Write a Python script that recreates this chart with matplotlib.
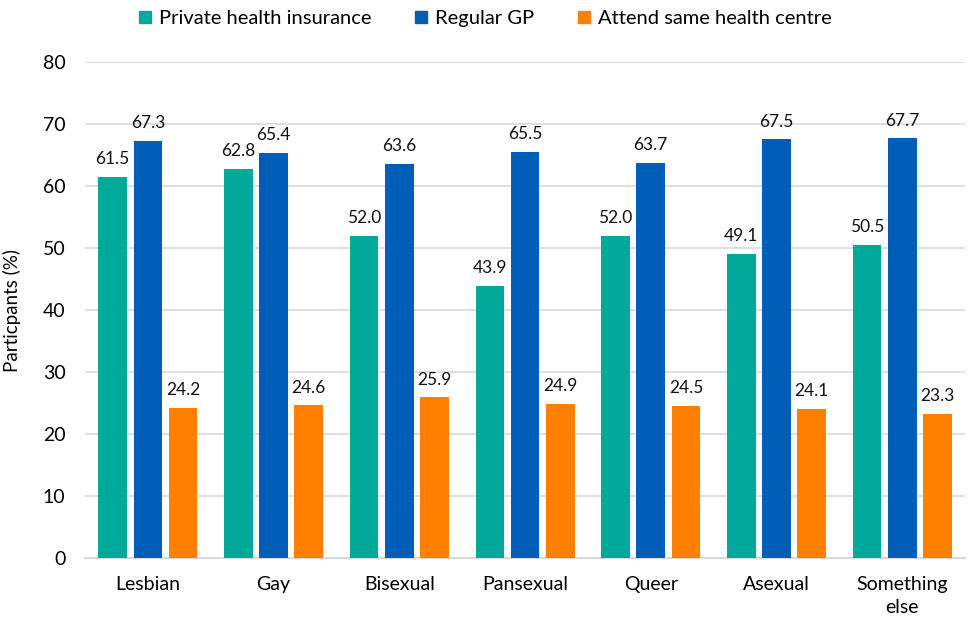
import numpy as np
import matplotlib.pyplot as plt
from matplotlib.lines import Line2D

plt.rcParams['font.family'] = ['Lato', 'DejaVu Sans']

categories = ["Lesbian", "Gay", "Bisexual", "Pansexual", "Queer", "Asexual", "Something\nelse"]
private_ins = [61.5, 62.8, 52.0, 43.9, 52.0, 49.1, 50.5]
regular_gp = [67.3, 65.4, 63.6, 65.5, 63.7, 67.5, 67.7]
same_centre = [24.2, 24.6, 25.9, 24.9, 24.5, 24.1, 23.3]

series = [("Private health insurance", private_ins, "#00A99A"),
          ("Regular GP", regular_gp, "#005EB8"),
          ("Attend same health centre", same_centre, "#FF7F00")]

fig = plt.figure(figsize=(9.7, 6.23), dpi=100)
ax = fig.add_axes([0.0876, 0.1043, 0.9074, 0.7962])

x = np.arange(len(categories))
step = 0.28
width = 0.228
for i, (name, vals, col) in enumerate(series):
    pos = x + (i - 1) * step
    ax.bar(pos, vals, width=width, color=col, zorder=3)
    for p, v in zip(pos, vals):
        ax.annotate(f"{v:.1f}", (p, v), xytext=(0, 7), textcoords="offset points",
                    ha="center", va="bottom", fontsize=12.5, color="#111111")

ax.set_xlim(-0.5, len(categories) - 0.5)
ax.set_ylim(0, 80)
ax.set_yticks(range(0, 81, 10))
ax.yaxis.grid(True, color="#D9D9D9", linewidth=1.2, zorder=0)
ax.set_xticks(x)
ax.set_xticklabels(categories, fontsize=14, linespacing=1.45)
ax.tick_params(axis="y", labelsize=14, length=0, pad=14)
ax.tick_params(axis="x", length=0, pad=13)
for s in ["top", "right", "left"]:
    ax.spines[s].set_visible(False)
ax.spines["bottom"].set_color("#D9D9D9")
ax.spines["bottom"].set_linewidth(1.5)
ax.set_ylabel("Particpants (%)", fontsize=13.5)
ax.yaxis.set_label_coords(-0.073, 0.5)

handles = [Line2D([], [], marker="s", linestyle="none", markersize=9,
                  markerfacecolor=c, markeredgecolor=c) for _, _, c in series]
fig.legend(handles, [n for n, _, _ in series], loc="upper center",
           bbox_to_anchor=(0.5, 1.013), ncol=3, frameon=False, fontsize=14.5,
           handlelength=0.7, handletextpad=0.35, columnspacing=2.1)

fig.savefig("out.png", dpi=100)
